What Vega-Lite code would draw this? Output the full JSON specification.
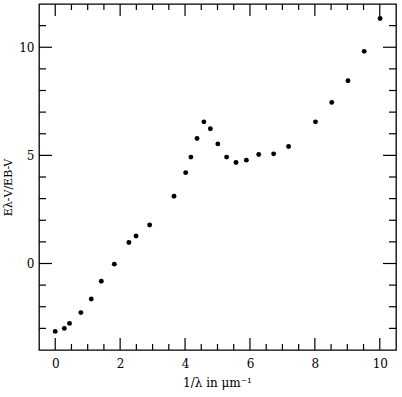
{
  "$schema": "https://vega.github.io/schema/vega-lite/v6.json",
  "width": 357,
  "height": 346,
  "autosize": "none",
  "padding": {"left": 39, "top": 4, "right": 6, "bottom": 47},
  "background": "white",
  "config": {
    "view": {"stroke": "black", "strokeWidth": 1.3},
    "axis": {
      "domain": false,
      "grid": false,
      "ticks": false,
      "labelColor": "black",
      "labelFont": "DejaVu Serif",
      "labelFontSize": 12,
      "titleFont": "DejaVu Serif",
      "titleFontSize": 12,
      "titleFontWeight": "normal",
      "titleColor": "black"
    }
  },
  "datasets": {
    "pts": [
      {"x": 0.0, "y": -3.14},
      {"x": 0.28, "y": -3.0},
      {"x": 0.44, "y": -2.77},
      {"x": 0.79, "y": -2.27},
      {"x": 1.11, "y": -1.64},
      {"x": 1.42, "y": -0.82},
      {"x": 1.82, "y": -0.03},
      {"x": 2.27, "y": 0.97},
      {"x": 2.49, "y": 1.27},
      {"x": 2.91, "y": 1.78},
      {"x": 3.66, "y": 3.11},
      {"x": 4.02, "y": 4.2},
      {"x": 4.18, "y": 4.92},
      {"x": 4.37, "y": 5.78},
      {"x": 4.58, "y": 6.55},
      {"x": 4.78, "y": 6.23},
      {"x": 5.01, "y": 5.53},
      {"x": 5.28, "y": 4.92},
      {"x": 5.57, "y": 4.67},
      {"x": 5.89, "y": 4.78},
      {"x": 6.27, "y": 5.04},
      {"x": 6.73, "y": 5.07},
      {"x": 7.19, "y": 5.41},
      {"x": 8.02, "y": 6.55},
      {"x": 8.52, "y": 7.45},
      {"x": 9.02, "y": 8.45},
      {"x": 9.52, "y": 9.81},
      {"x": 10.01, "y": 11.33}
    ],
    "xmajor": [{"v": 0}, {"v": 2}, {"v": 4}, {"v": 6}, {"v": 8}, {"v": 10}],
    "xminor": [{"v": 0.5}, {"v": 1}, {"v": 1.5}, {"v": 2.5}, {"v": 3}, {"v": 3.5}, {"v": 4.5}, {"v": 5}, {"v": 5.5}, {"v": 6.5}, {"v": 7}, {"v": 7.5}, {"v": 8.5}, {"v": 9}, {"v": 9.5}],
    "ymajor": [{"v": 0}, {"v": 5}, {"v": 10}],
    "yminor": [{"v": -3}, {"v": -2}, {"v": -1}, {"v": 1}, {"v": 2}, {"v": 3}, {"v": 4}, {"v": 6}, {"v": 7}, {"v": 8}, {"v": 9}, {"v": 11}]
  },
  "layer": [
    {
      "data": {"name": "pts"},
      "mark": {"type": "point", "filled": true, "color": "black", "size": 24, "opacity": 1},
      "encoding": {
        "x": {
          "field": "x", "type": "quantitative",
          "scale": {"domain": [-0.5, 10.5], "nice": false, "zero": false},
          "axis": {
            "orient": "bottom", "values": [0, 2, 4, 6, 8, 10],
            "labelPadding": 8, "title": "1/λ  in  μm⁻¹",
            "titleX": 178, "titleY": 36, "titleBaseline": "alphabetic", "titleAnchor": "middle"
          }
        },
        "y": {
          "field": "y", "type": "quantitative",
          "scale": {"domain": [-4, 12], "nice": false, "zero": false},
          "axis": {
            "orient": "left", "values": [0, 5, 10],
            "labelPadding": 5, "title": "Eλ-V/EB-V", "titleFontSize": 11,
            "titleX": -31, "titleY": 183, "titleBaseline": "middle", "titleAngle": -90
          }
        }
      }
    },
    {
      "data": {"name": "xmajor"},
      "mark": {"type": "rule", "color": "black", "strokeWidth": 1.2},
      "encoding": {
        "x": {"field": "v", "type": "quantitative"},
        "y": {"datum": -4, "type": "quantitative"},
        "y2": {"datum": -3.445}
      }
    },
    {
      "data": {"name": "xmajor"},
      "mark": {"type": "rule", "color": "black", "strokeWidth": 1.2},
      "encoding": {
        "x": {"field": "v", "type": "quantitative"},
        "y": {"datum": 12, "type": "quantitative"},
        "y2": {"datum": 11.445}
      }
    },
    {
      "data": {"name": "xminor"},
      "mark": {"type": "rule", "color": "black", "strokeWidth": 1.2},
      "encoding": {
        "x": {"field": "v", "type": "quantitative"},
        "y": {"datum": -4, "type": "quantitative"},
        "y2": {"datum": -3.723}
      }
    },
    {
      "data": {"name": "xminor"},
      "mark": {"type": "rule", "color": "black", "strokeWidth": 1.2},
      "encoding": {
        "x": {"field": "v", "type": "quantitative"},
        "y": {"datum": 12, "type": "quantitative"},
        "y2": {"datum": 11.723}
      }
    },
    {
      "data": {"name": "ymajor"},
      "mark": {"type": "rule", "color": "black", "strokeWidth": 1.2},
      "encoding": {
        "y": {"field": "v", "type": "quantitative"},
        "x": {"datum": -0.5, "type": "quantitative"},
        "x2": {"datum": -0.1}
      }
    },
    {
      "data": {"name": "ymajor"},
      "mark": {"type": "rule", "color": "black", "strokeWidth": 1.2},
      "encoding": {
        "y": {"field": "v", "type": "quantitative"},
        "x": {"datum": 10.5, "type": "quantitative"},
        "x2": {"datum": 10.1}
      }
    },
    {
      "data": {"name": "yminor"},
      "mark": {"type": "rule", "color": "black", "strokeWidth": 1.2},
      "encoding": {
        "y": {"field": "v", "type": "quantitative"},
        "x": {"datum": -0.5, "type": "quantitative"},
        "x2": {"datum": -0.284}
      }
    },
    {
      "data": {"name": "yminor"},
      "mark": {"type": "rule", "color": "black", "strokeWidth": 1.2},
      "encoding": {
        "y": {"field": "v", "type": "quantitative"},
        "x": {"datum": 10.5, "type": "quantitative"},
        "x2": {"datum": 10.284}
      }
    }
  ]
}
